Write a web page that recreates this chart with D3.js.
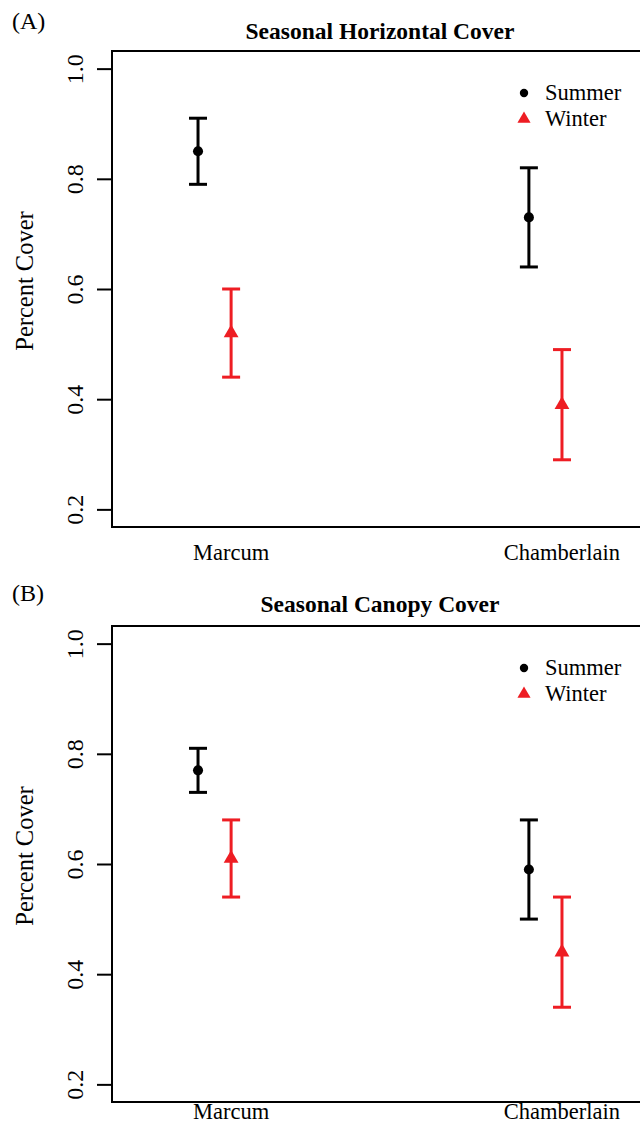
<!DOCTYPE html>
<html>
<head>
<meta charset="utf-8">
<script src="https://cdn.jsdelivr.net/npm/d3@7"></script>
<style>
  body { margin: 0; background: #fff; }
  svg, svg text { font-family: "Liberation Serif", "Times New Roman", serif; }
  svg { display: block; }
</style>
</head>
<body>
<script>
const W = 640, H = 1126;

const sites = ["Marcum", "Chamberlain"];
const seasons = ["Summer", "Winter"];
const yTicks = [0.2, 0.4, 0.6, 0.8, 1.0];

// (A) horizontal cover
const horizSummerMean = [0.85, 0.73];
const horizSummerLow = [0.79, 0.64];
const horizSummerHigh = [0.91, 0.82];
const horizWinterMean = [0.52, 0.39];
const horizWinterLow = [0.44, 0.29];
const horizWinterHigh = [0.60, 0.49];

// (B) canopy cover
const canopySummerMean = [0.77, 0.59];
const canopySummerLow = [0.73, 0.50];
const canopySummerHigh = [0.81, 0.68];
const canopyWinterMean = [0.61, 0.44];
const canopyWinterLow = [0.54, 0.34];
const canopyWinterHigh = [0.68, 0.54];

const colors = { Summer: "#000", Winter: "#ee1d23" };
const offsets = { Summer: -0.1, Winter: 0 };

const panels = [
  { tag: "(A)", title: "Seasonal Horizontal Cover", top: 0, labelY: 560,
    series: {
      Summer: [horizSummerMean, horizSummerLow, horizSummerHigh],
      Winter: [horizWinterMean, horizWinterLow, horizWinterHigh]
    } },
  { tag: "(B)", title: "Seasonal Canopy Cover", top: 575, labelY: 544,
    series: {
      Summer: [canopySummerMean, canopySummerLow, canopySummerHigh],
      Winter: [canopyWinterMean, canopyWinterLow, canopyWinterHigh]
    } }
];

const svg = d3.select("body").append("svg")
  .attr("width", W)
  .attr("height", H);

svg.append("rect").attr("width", W).attr("height", H).attr("fill", "#fff");

// plot region (R style: xlim 0.7-2.2, ylim 0.2-1.0 with 4% padding)
const x = d3.scaleLinear().domain([0.64, 2.26]).range([112, 648]);
const y = d3.scaleLinear().domain([0.168, 1.032]).range([527, 51]);

panels.forEach((p, pi) => {
  const g = svg.append("g").attr("transform", `translate(0,${p.top})`);

  // panel tag
  g.append("text")
    .attr("x", 12)
    .attr("y", pi === 0 ? 29 : 26)
    .style("font-size", "24px")
    .text(p.tag);

  // title
  g.append("text")
    .attr("x", (x.range()[0] + x.range()[1]) / 2)
    .attr("y", pi === 0 ? 39 : 37)
    .attr("text-anchor", "middle")
    .style("font-size", "23.5px")
    .style("font-weight", "bold")
    .text(p.title);

  // box
  g.append("rect")
    .attr("x", x.range()[0])
    .attr("y", y.range()[1])
    .attr("width", x.range()[1] - x.range()[0])
    .attr("height", y.range()[0] - y.range()[1])
    .attr("fill", "none")
    .attr("stroke", "#000")
    .attr("stroke-width", 2);

  // y axis
  const yAxis = g.append("g")
    .attr("transform", `translate(${x.range()[0]},0)`)
    .call(d3.axisLeft(y).tickValues(yTicks).tickSize(15).tickFormat(d3.format(".1f")));
  yAxis.attr("font-family", null).attr("font-size", null);
  yAxis.select(".domain").remove();
  yAxis.selectAll(".tick line").attr("stroke", "#000").attr("stroke-width", 2);
  yAxis.selectAll(".tick text")
    .attr("x", null)
    .attr("dy", null)
    .attr("fill", "#000")
    .style("font-family", "'Liberation Serif', serif")
    .style("font-size", "24px")
    .attr("text-anchor", "middle")
    .attr("transform", "translate(-29,0) rotate(-90)");

  // y label
  g.append("text")
    .attr("transform", `translate(33,281) rotate(-90)`)
    .attr("text-anchor", "middle")
    .style("font-size", "24.5px")
    .text("Percent Cover");

  // x category labels
  g.selectAll(".site")
    .data(sites)
    .join("text")
    .attr("class", "site")
    .attr("x", (d, i) => x(i + 1))
    .attr("y", p.labelY)
    .attr("text-anchor", "middle")
    .style("font-size", "22.5px")
    .text(d => d);

  // error bars and points
  seasons.forEach(s => {
    const [mean, low, high] = p.series[s];
    const rows = sites.map((site, i) => ({ pos: i + 1 + offsets[s], mean: mean[i], low: low[i], high: high[i] }));
    const col = colors[s];
    const bars = g.append("g").attr("stroke", col).attr("stroke-width", 3);

    bars.selectAll(".stem").data(rows).join("line")
      .attr("x1", d => x(d.pos)).attr("x2", d => x(d.pos))
      .attr("y1", d => y(d.low)).attr("y2", d => y(d.high));
    bars.selectAll(".capHi").data(rows).join("line")
      .attr("x1", d => x(d.pos) - 9).attr("x2", d => x(d.pos) + 9)
      .attr("y1", d => y(d.high)).attr("y2", d => y(d.high));
    bars.selectAll(".capLo").data(rows).join("line")
      .attr("x1", d => x(d.pos) - 9).attr("x2", d => x(d.pos) + 9)
      .attr("y1", d => y(d.low)).attr("y2", d => y(d.low));

    const sym = s === "Summer"
      ? d3.symbol(d3.symbolCircle, 80)
      : d3.symbol(d3.symbolTriangle, 95);
    g.selectAll(`.pt-${s}`).data(rows).join("path")
      .attr("class", `pt-${s}`)
      .attr("transform", d => `translate(${x(d.pos)},${y(d.mean)})`)
      .attr("d", sym)
      .attr("fill", col);
  });

  // legend
  const leg = g.selectAll(".leg").data(seasons).join("g")
    .attr("class", "leg")
    .attr("transform", (d, i) => `translate(524,${93 + i * 26})`);
  leg.append("path")
    .attr("d", d => d === "Summer" ? d3.symbol(d3.symbolCircle, 55)() : d3.symbol(d3.symbolTriangle, 75)())
    .attr("fill", d => colors[d]);
  leg.append("text")
    .attr("x", 21)
    .attr("y", 7)
    .style("font-size", "22.5px")
    .text(d => d);
});
</script>
</body>
</html>
